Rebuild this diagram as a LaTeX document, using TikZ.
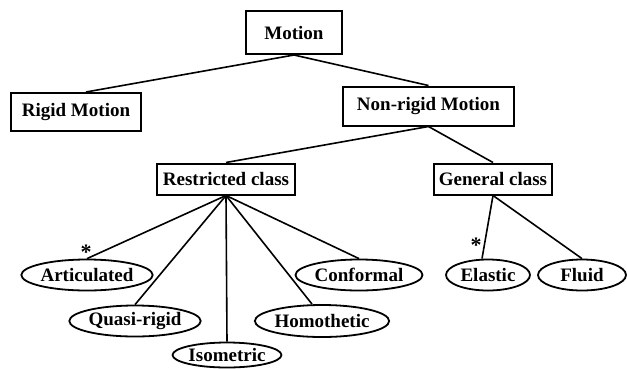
\documentclass[tikz,border=0pt]{standalone}
\usepackage{fontspec}
\setmainfont{Liberation Serif}
\usetikzlibrary{shapes.geometric}
\begin{document}
\begin{tikzpicture}[x=1pt,y=-1pt,
  every node/.style={font=\fontsize{19}{21}\selectfont\bfseries, inner sep=0pt},
  boxnode/.style={draw, line width=2pt, rectangle},
  ovalnode/.style={draw, line width=1.8pt, ellipse},
  link/.style={line width=1.6pt},
  starnode/.style={font=\fontsize{22}{24}\selectfont\bfseries}]
\useasboundingbox (0,0) rectangle (627,368);
% boxes
\node[boxnode, minimum width=96pt, minimum height=43pt] (motion) at (294,32.5) {Motion};
\node[boxnode, minimum width=130pt, minimum height=38pt] (rigid) at (76,112) {Rigid Motion};
\node[boxnode, minimum width=171pt, minimum height=39pt] (nonrigid) at (428.5,106) {Non-rigid Motion};
\node[boxnode, minimum width=138pt, minimum height=31pt] (restricted) at (226,179) {Restricted class};
\node[boxnode, minimum width=118pt, minimum height=31pt] (general) at (493,179) {General class};
% ellipses
\node[ovalnode, minimum width=120pt, minimum height=31pt] (articulated) at (87,275) {Articulated};
\node[ovalnode, minimum width=130pt, minimum height=31pt] (quasi) at (135,321) {Quasi-rigid};
\node[ovalnode, minimum width=108pt, minimum height=25pt] (isometric) at (227,355) {Isometric};
\node[ovalnode, minimum width=129pt, minimum height=32pt] (homothetic) at (322,321) {Homothetic};
\node[ovalnode, minimum width=127pt, minimum height=31pt] (conformal) at (359,275) {Conformal};
\node[ovalnode, minimum width=84pt, minimum height=31pt] (elastic) at (488,275) {Elastic};
\node[ovalnode, minimum width=88pt, minimum height=31pt] (fluid) at (582,275) {Fluid};
% stars
\node[starnode] (star1) at (86,252) {*};
\node[starnode] (star2) at (476,245) {*};
% connectors
\draw[link] (motion.south) -- ([xshift=10pt]rigid.north);
\draw[link] (motion.south) -- (nonrigid.north);
\draw[link] (nonrigid.south) -- (restricted.north);
\draw[link] (nonrigid.south) -- (general.north);
\draw[link] (restricted.south) -- (articulated.north);
\draw[link] (restricted.south) -- (quasi.north);
\draw[link] (restricted.south) -- (isometric.north);
\draw[link] (restricted.south) -- ([xshift=-10pt]homothetic.north);
\draw[link] (restricted.south) -- (conformal.north);
\draw[link] (general.south) -- ([xshift=-6pt]elastic.north);
\draw[link] (general.south) -- (fluid.north);
\end{tikzpicture}
\end{document}
